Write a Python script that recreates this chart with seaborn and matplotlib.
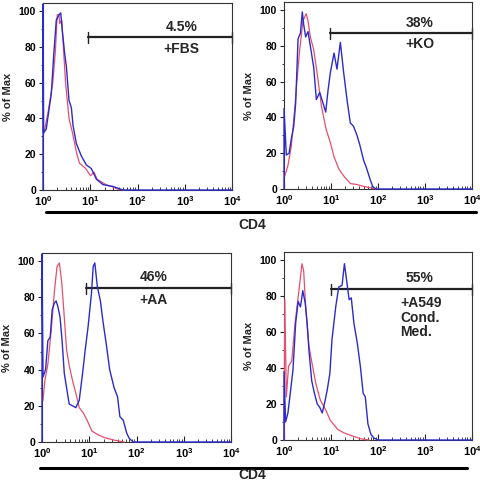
import numpy as np
import pandas as pd
import matplotlib
matplotlib.use('Agg')
import matplotlib.pyplot as plt
import seaborn as sns
from matplotlib.ticker import FixedLocator, FixedFormatter, MultipleLocator

sns.set_theme(style="white")
plt.rcParams['font.family'] = ['Liberation Sans', 'DejaVu Sans']
plt.rcParams['font.weight'] = 'bold'
plt.rcParams['mathtext.fontset'] = 'custom'
plt.rcParams['mathtext.rm'] = 'Liberation Sans:bold'
plt.rcParams['mathtext.bf'] = 'Liberation Sans:bold'
plt.rcParams['mathtext.it'] = 'Liberation Sans:bold'

BLUE = '#2b2bcc'
RED = '#e4506e'

# ---- datos (CD4 en unidades lineales, % del máximo) ----
fbs_blue_x = [1.0, 1.0, 1.03, 1.17, 1.34, 1.5, 1.68, 1.91, 2.18, 2.37, 2.56, 2.88, 3.12, 3.55, 3.98,
              4.32, 5.07, 6.47, 8.26, 10.5, 13.5, 18.6, 30.2, 49.0, 10000]
fbs_blue_y = [0, 104, 32, 34, 45, 54, 75, 95, 98, 99, 89, 76, 69, 50, 46,
              36, 26, 19, 14, 12, 6, 3, 2, 0, 0]
fbs_red_x = [1.05, 1.27, 1.61, 1.83, 2.0, 2.17, 2.26, 2.49, 3.0, 3.55, 4.2, 5.1, 5.9, 8.0, 10.1,
             12.0, 13.9, 17.2, 21.5, 27.5, 38.0, 52.0]
fbs_red_y = [32, 43, 60, 78, 98, 98, 93, 95, 60, 40, 32, 21, 15, 12, 8,
             10, 6, 4.5, 3, 2, 0.5, 0]

ko_blue_x = [1.0, 1.0, 1.12, 1.28, 1.43, 1.61, 1.77, 1.89, 1.99, 2.23, 2.45, 2.62, 2.89, 3.24,
             3.63, 4.28, 4.88, 5.74, 6.76, 7.71, 8.63, 9.68, 11.6, 13.4, 15.8, 18.6, 21.9, 25.7,
             30.2, 35.7, 40.7, 49.5, 56.5, 68.7, 78.3, 92.3, 10000]
ko_blue_y = [0, 45, 19, 20, 28, 35, 48, 68, 84, 87, 99, 92, 85, 88, 80, 68, 50, 54, 48, 43,
             55, 65, 76, 67, 82, 65, 50, 37, 35, 30, 25, 16, 12, 5, 1, 0, 0]
ko_red_x = [1.03, 1.21, 1.43, 1.68, 1.89, 2.16, 2.53, 2.97, 3.24, 3.63, 4.28, 5.04, 6.29,
            7.93, 9.68, 11.6, 14.8, 19.0, 26.0, 35.6, 48.6, 73.0, 92.3]
ko_red_y = [7, 13, 24, 44, 61, 78, 94, 98, 94, 85, 78, 65, 46, 33, 26, 18, 11, 7, 3, 2.5, 1.5, 0.5, 0]

aa_blue_x = [1.0, 1.0, 1.05, 1.19, 1.33, 1.49, 1.64, 1.84, 1.99, 2.16, 2.41, 2.66, 2.96, 3.31,
             3.76, 4.42, 5.2, 6.13, 7.22, 8.2, 9.46, 11.1, 12.1, 13.1, 14.8, 17.2, 19.4, 22.9,
             27.0, 33.5, 39.6, 44.4, 52.3, 61.7, 70.0, 85.0, 10000]
aa_blue_y = [0, 104, 36, 40, 56, 58, 73, 77, 78, 75, 69, 56, 38, 30, 21, 20, 19, 23, 38, 51,
             64, 82, 97, 99, 86, 78, 67, 54, 40, 30, 25, 14, 12, 5, 2, 0, 0]
aa_red_x = [1.05, 1.15, 1.33, 1.57, 1.84, 2.08, 2.33, 2.62, 2.96, 3.31, 3.78, 4.42, 5.2, 6.13,
            7.5, 9.0, 11.4, 15.4, 21.0, 34.0, 55.0]
aa_red_y = [23, 34, 43, 62, 84, 97, 99, 88, 69, 51, 42, 34, 27, 19, 16, 12, 6, 4, 2.4, 1, 0]

a549_blue_x = [1.0, 1.0, 1.08, 1.21, 1.36, 1.55, 1.77, 2.0, 2.24, 2.51, 2.83, 3.10, 3.39,
               3.88, 4.43, 5.1, 5.8, 6.5, 7.5, 8.33, 9.46, 10.5, 12.6, 14.6, 17.2, 19.3,
               24.3, 27.0, 30.7, 36.2, 42.1, 48.3, 53.6, 61.0, 71.0, 83.0, 100.0, 10000]
a549_blue_y = [0, 38, 10, 15, 26, 39, 65, 77, 74, 83, 76, 65, 50, 33, 26, 20, 18, 15, 22, 28,
               37, 56, 74, 85, 86, 98, 78, 79, 65, 54, 41, 26, 24, 9, 3, 1, 0, 0]
a549_red_x = [1.0, 1.04, 1.04, 1.12, 1.25, 1.46, 1.72, 2.16, 2.41, 2.62, 2.89, 3.40, 4.05,
              4.78, 5.96, 7.63, 9.6, 13.8, 18.6, 30.4, 46.0, 65.0]
a549_red_y = [0, 78, 78, 24, 41, 44, 65, 87, 98, 94, 74, 52, 41, 31, 22, 17, 11, 6, 4, 2, 0.5, 0]

paneles = [
    dict(rect=[0.0896, 0.6066, 0.394, 0.387], bx=fbs_blue_x, by=fbs_blue_y, rx=fbs_red_x, ry=fbs_red_y,
         gate=(8.9, 85.3), pct='4.5%', pct_pos=(850, 91), label='+FBS', lab_pos=(850, 79), lab_ha='center'),
    dict(rect=[0.5917, 0.6087, 0.3916, 0.387], bx=ko_blue_x, by=ko_blue_y, rx=ko_red_x, ry=ko_red_y,
         gate=(9.7, 87), pct='38%', pct_pos=(780, 93), label='+KO', lab_pos=(780, 81), lab_ha='center'),
    dict(rect=[0.0875, 0.0849, 0.394, 0.3913], bx=aa_blue_x, by=aa_blue_y, rx=aa_red_x, ry=aa_red_y,
         gate=(8.7, 85), pct='46%', pct_pos=(234, 91), label='+AA', lab_pos=(224, 78.6), lab_ha='center'),
    dict(rect=[0.5917, 0.089, 0.3916, 0.3893], bx=a549_blue_x, by=a549_blue_y, rx=a549_red_x, ry=a549_red_y,
         gate=(10.2, 83.7), pct='55%', pct_pos=(776, 90), label='+A549\nCond.\nMed.', lab_pos=(300, 80),
         lab_ha='left'),
]

fig = plt.figure(figsize=(4.8, 4.83), dpi=100)

decades = [1, 10, 100, 1000, 10000]
dec_labels = [r'$10^{0}$', r'$10^{1}$', r'$10^{2}$', r'$10^{3}$', r'$10^{4}$']
minors = [m * d for d in [1, 10, 100, 1000] for m in range(2, 10)]

for p in paneles:
    ax = fig.add_axes(p['rect'])
    df_b = pd.DataFrame({'CD4': p['bx'], 'pct': p['by']})
    df_r = pd.DataFrame({'CD4': p['rx'], 'pct': p['ry']})
    sns.lineplot(data=df_r, x='CD4', y='pct', ax=ax, color=RED, lw=0.9, sort=False, estimator=None)
    sns.lineplot(data=df_b, x='CD4', y='pct', ax=ax, color=BLUE, lw=1.0, sort=False, estimator=None)
    for ln in ax.lines:
        ln.set_clip_on(False)
        ln.set_zorder(3)
    ax.set_xscale('log')
    ax.set_xlim(1, 10000)
    ax.set_ylim(0, 104.5)
    ax.xaxis.set_major_locator(FixedLocator(decades))
    ax.xaxis.set_major_formatter(FixedFormatter(dec_labels))
    ax.xaxis.set_minor_locator(FixedLocator(minors))
    ax.xaxis.set_minor_formatter(FixedFormatter([]))
    ax.yaxis.set_major_locator(FixedLocator([0, 20, 40, 60, 80, 100]))
    ax.yaxis.set_minor_locator(MultipleLocator(10))
    ax.tick_params(bottom=True, left=True, which='both')
    ax.tick_params(axis='x', which='major', direction='in', length=4, width=0.8, labelsize=8, pad=3, colors='#222222')
    ax.tick_params(axis='x', which='minor', direction='in', length=2.5, width=0.6, colors='#222222')
    ax.tick_params(axis='y', which='major', direction='out', length=3, width=0.8, labelsize=7.5, pad=2, colors='#222222')
    ax.tick_params(axis='y', which='minor', direction='out', length=1.5, width=0.6, colors='#222222')
    for lab in ax.get_xticklabels() + ax.get_yticklabels():
        lab.set_fontweight('bold')
        lab.set_color('black')
    for s in ax.spines.values():
        s.set_color('#333333')
        s.set_linewidth(0.8)
    ax.set_xlabel('')
    ax.set_ylabel('% of Max', fontsize=8, fontweight='bold', labelpad=4)

    # barra de la puerta (gate)
    gx, gy = p['gate']
    ax.plot([gx, 10000], [gy, gy], color='#222222', lw=1.6, clip_on=False)
    ax.plot([gx, gx], [gy - 3, gy + 3], color='#222222', lw=1.0, clip_on=False)
    ax.plot([10000, 10000], [gy - 3, gy + 3], color='#222222', lw=1.0, clip_on=False)
    ax.text(p['pct_pos'][0], p['pct_pos'][1], p['pct'], ha='center', va='center',
            fontsize=10, fontweight='bold')
    ax.text(p['lab_pos'][0], p['lab_pos'][1], p['label'], ha=p['lab_ha'],
            va='top' if '\n' in p['label'] else 'center',
            fontsize=10, fontweight='bold', linespacing=1.05)

# líneas y etiquetas CD4
fig.add_artist(plt.Line2D([46 / 480, 476 / 480], [1 - 212 / 483] * 2, color='black', lw=2.2))
fig.text(252 / 480, 1 - 225 / 483, 'CD4', ha='center', va='center', fontsize=10, fontweight='bold')
fig.add_artist(plt.Line2D([40 / 480, 467 / 480], [1 - 468 / 483] * 2, color='black', lw=2.2))
fig.text(252 / 480, 1 - 482 / 483, 'CD4', ha='center', va='bottom', fontsize=10, fontweight='bold')

fig.savefig('out.png', dpi=100)
